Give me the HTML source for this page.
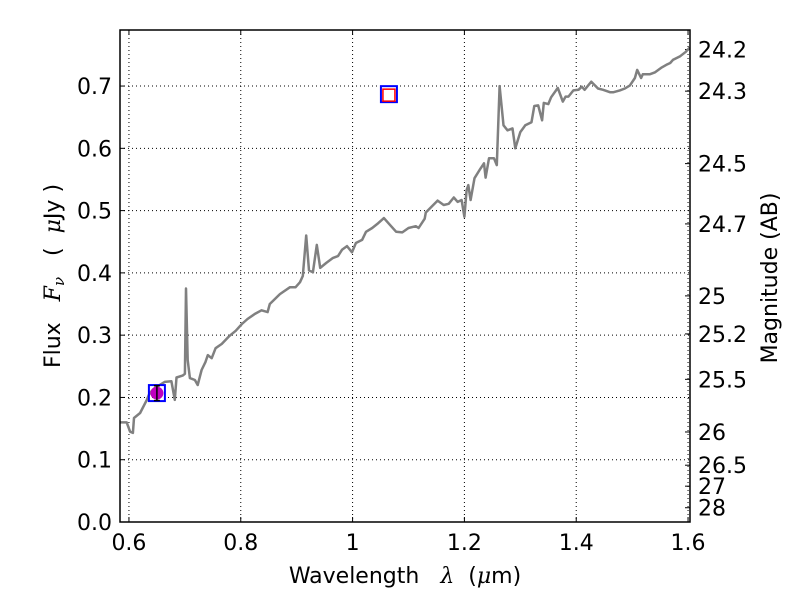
<!DOCTYPE html>
<html><head><meta charset="utf-8"><style>
body{margin:0;background:#fff;}
svg text{font-family:"DejaVu Sans","Liberation Sans",sans-serif;fill:#000;white-space:pre;}
</style></head><body>
<svg id="chart" width="800" height="600" xmlns="http://www.w3.org/2000/svg"></svg>
<script>
const xTicks=[0.6,0.8,1.0,1.2,1.4,1.6];
const xTickLabels=["0.6","0.8","1","1.2","1.4","1.6"];
const yTicks=[0,0.1,0.2,0.3,0.4,0.5,0.6,0.7];
const yTickLabels=["0.0","0.1","0.2","0.3","0.4","0.5","0.6","0.7"];
const magTicks=[24.2,24.3,24.5,24.7,25,25.2,25.5,26,26.5,27,28];
const magLabels=["24.2","24.3","24.5","24.7","25","25.2","25.5","26","26.5","27","28"];
const specWave=[0.584,0.596,0.602,0.607,0.609,0.62,0.632,0.637,0.646,0.664,0.676,0.682,0.685,0.696,0.7,0.702,0.705,0.709,0.718,0.723,0.73,0.737,0.741,0.748,0.755,0.766,0.78,0.791,0.802,0.812,0.825,0.837,0.848,0.852,0.87,0.888,0.898,0.906,0.911,0.917,0.922,0.929,0.936,0.942,0.953,0.965,0.974,0.981,0.99,0.999,1.006,1.017,1.024,1.035,1.046,1.056,1.067,1.078,1.089,1.1,1.113,1.118,1.129,1.131,1.152,1.163,1.172,1.181,1.188,1.195,1.2,1.204,1.207,1.211,1.218,1.227,1.235,1.238,1.244,1.253,1.258,1.263,1.27,1.277,1.286,1.291,1.3,1.309,1.32,1.325,1.332,1.339,1.342,1.35,1.355,1.367,1.376,1.381,1.386,1.395,1.404,1.41,1.415,1.427,1.439,1.448,1.461,1.466,1.478,1.487,1.496,1.505,1.509,1.516,1.519,1.532,1.541,1.553,1.561,1.568,1.573,1.586,1.596,1.603];
const specFlux=[0.16,0.16,0.145,0.143,0.167,0.175,0.196,0.207,0.215,0.225,0.226,0.196,0.232,0.235,0.238,0.375,0.260,0.231,0.228,0.220,0.244,0.257,0.268,0.263,0.279,0.286,0.299,0.307,0.318,0.326,0.334,0.340,0.337,0.350,0.366,0.377,0.377,0.385,0.395,0.46,0.404,0.401,0.445,0.408,0.416,0.424,0.427,0.437,0.443,0.433,0.448,0.453,0.466,0.472,0.480,0.488,0.477,0.466,0.465,0.472,0.475,0.472,0.487,0.497,0.516,0.509,0.511,0.521,0.514,0.517,0.49,0.533,0.541,0.517,0.552,0.565,0.576,0.553,0.584,0.584,0.573,0.70,0.637,0.629,0.632,0.6,0.626,0.637,0.642,0.668,0.669,0.645,0.673,0.671,0.682,0.697,0.675,0.683,0.683,0.693,0.694,0.699,0.694,0.707,0.696,0.694,0.690,0.690,0.693,0.696,0.701,0.713,0.726,0.713,0.719,0.719,0.722,0.730,0.734,0.737,0.742,0.748,0.755,0.762];
const photWave=[0.65,1.065];
const photFlux=[0.207,0.687];
const photErr=[0.012,0];

const L=120,R=690,T=30,B=522,X0=0.584,X1=1.6035,Y0=0,Y1=0.79;
const sx=v=>L+(v-X0)/(X1-X0)*(R-L);
const sy=v=>B-(v-Y0)/(Y1-Y0)*(B-T);
const NS="http://www.w3.org/2000/svg";
const svg=document.getElementById('chart');
function mk(tag,attrs,parent){const e=document.createElementNS(NS,tag);for(const k in attrs)e.setAttribute(k,attrs[k]);(parent||svg).appendChild(e);return e;}

xTicks.forEach((t,i)=>{
  const g=mk('line',{x1:sx(t),x2:sx(t),y1:T,y2:B,stroke:'#000','stroke-width':1,'stroke-dasharray':'1,3'});
  
  
  mk('line',{x1:sx(t),x2:sx(t),y1:B,y2:B-5,stroke:'#000'});
  mk('line',{x1:sx(t),x2:sx(t),y1:T,y2:T+5,stroke:'#000'});
  const tx=mk('text',{x:sx(t),y:B+28,'text-anchor':'middle','font-size':22});
  tx.textContent=xTickLabels[i];
  
  
});
yTicks.forEach((t,i)=>{
  const g=mk('line',{x1:L,x2:R,y1:sy(t),y2:sy(t),stroke:'#000','stroke-width':1,'stroke-dasharray':'1,3'});
  
  
  mk('line',{x1:L,x2:L+5,y1:sy(t),y2:sy(t),stroke:'#000'});
  const tx=mk('text',{x:L-8,y:sy(t)+8,'text-anchor':'end','font-size':22});
  tx.textContent=yTickLabels[i];
  
  
});
magTicks.forEach((m,i)=>{
  const f=Math.pow(10,(23.9-m)/2.5);
  mk('line',{x1:R,x2:R-5,y1:sy(f),y2:sy(f),stroke:'#000'});
  const tx=mk('text',{x:R+8,y:sy(f)+8,'font-size':22});
  tx.textContent=magLabels[i];
  
  
});

const pts=specWave.map((w,i)=>sx(w).toFixed(1)+','+sy(specFlux[i]).toFixed(1)).join(' ');
const sp=mk('polyline',{points:pts,fill:'none',stroke:'#808080','stroke-width':2.5,'stroke-linejoin':'round'});



{
  const x=sx(photWave[0]),y=sy(photFlux[0]);
  const s=mk('rect',{x:x-8,y:y-8,width:16,height:16,fill:'none',stroke:'#0000ff','stroke-width':2});
  
  
  const c=mk('circle',{cx:x,cy:y,r:6.5,fill:'#bf00bf'});
  
  
  const e=photErr[0];
  mk('line',{x1:x,x2:x,y1:sy(photFlux[0]+e),y2:sy(photFlux[0]-e),stroke:'#000','stroke-width':1.5});
  mk('line',{x1:x-3,x2:x+3,y1:sy(photFlux[0]+e),y2:sy(photFlux[0]+e),stroke:'#000','stroke-width':1.5});
  mk('line',{x1:x-3,x2:x+3,y1:sy(photFlux[0]-e),y2:sy(photFlux[0]-e),stroke:'#000','stroke-width':1.5});
}
{
  const x=sx(photWave[1]),y=sy(photFlux[1]);
  const s=mk('rect',{x:x-8,y:y-8,width:16,height:16,fill:'none',stroke:'#0000ff','stroke-width':2});
  
  
  const r=mk('rect',{x:x-6,y:y-5,width:12,height:12,fill:'#fff',stroke:'#ff0000','stroke-width':1.5});
  
  
}

const fr=mk('rect',{x:L,y:T,width:R-L,height:B-T,fill:'none',stroke:'#000','stroke-width':1.5});



const xl=mk('text',{x:405,y:583,'text-anchor':'middle','font-size':22});
xl.innerHTML='Wavelength   <tspan font-style="italic" font-family="DejaVu Serif,serif">λ</tspan>  (<tspan font-style="italic" font-family="DejaVu Serif,serif">μ</tspan>m)';


const yl=mk('text',{x:0,y:0,'text-anchor':'middle','font-size':22,transform:'translate(60,276) rotate(-90)'});
yl.innerHTML='Flux   <tspan font-style="italic" font-family="DejaVu Serif,serif">F</tspan><tspan font-style="italic" font-size="15" dy="4" font-family="DejaVu Serif,serif">ν</tspan><tspan dy="-4">   (  </tspan><tspan font-style="italic" font-family="DejaVu Serif,serif">μ</tspan>Jy )';


const ml=mk('text',{x:0,y:0,'text-anchor':'middle','font-size':22,transform:'translate(777,278) rotate(-90)'});
ml.textContent='Magnitude (AB)';


</script>
</body></html>
